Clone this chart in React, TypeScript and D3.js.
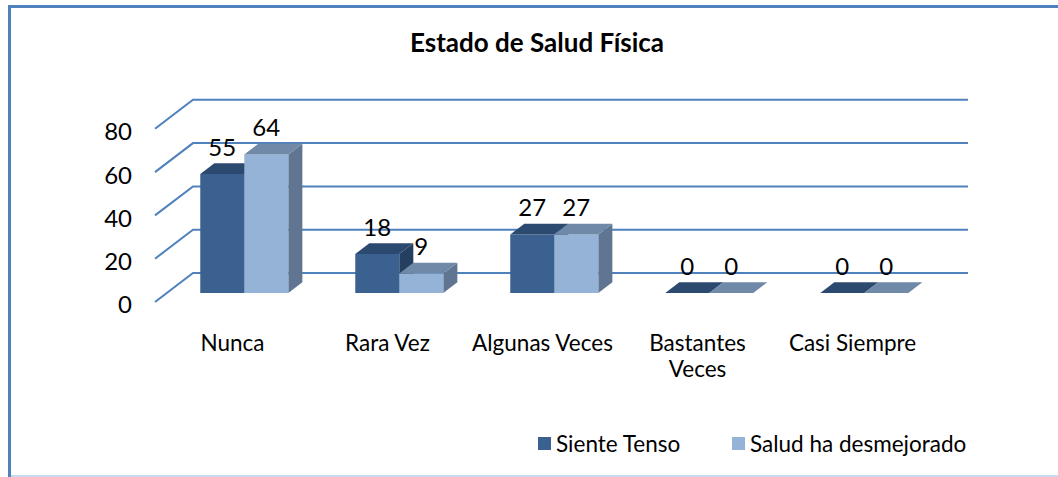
import React from "react";
import * as d3 from "d3";

const categories = ["Nunca", "Rara Vez", "Algunas Veces", "Bastantes Veces", "Casi Siempre"];
const series = ["Siente Tenso", "Salud ha desmejorado"];
const sienteTenso = [55, 18, 27, 0, 0];
const saludDesmejorado = [64, 9, 27, 0, 0];
const yTicks = [0, 20, 40, 60, 80];

const colors = [
  { front: "#3A6190", top: "#2C4A70", side: "#253F60" },
  { front: "#95B3D7", top: "#7089A8", side: "#5F7591" },
];

const width = 1058;
const height = 477;
const font = "Lato, 'Open Sans', sans-serif";

// floor: front-left corner and the depth vector of the 3D box
const floorX = 155;
const floorY = 302;
const depthX = 38;
const depthY = -29;
const floorW = 775;
const barD0 = 0.31;
const barD1 = 0.68;

const App = () => {
  const x0 = d3.scaleBand<string>().domain(categories).range([0, floorW]).paddingInner(0.432).paddingOuter(0.216);
  const x1 = d3.scaleBand<string>().domain(series).range([0, x0.bandwidth()]);
  const y = d3.scaleLinear().domain([0, 80]).range([0, 173.2]);
  const labelBand = d3.scaleBand<string>().domain(categories).range([0, floorW]);

  const values = [sienteTenso, saludDesmejorado];

  const pt = (u: number, d: number, v: number) =>
    [floorX + u + d * depthX, floorY + d * depthY - y(v)] as [number, number];
  const poly = (ps: [number, number][]) => ps.map((p) => p.join(",")).join(" ");

  return (
    <svg width={width} height={height} style={{ position: "absolute", left: 0, top: 0 }}>
      <rect x={0} y={0} width={width} height={height} fill="#fff" />
      <line x1={9.5} y1={6} x2={9.5} y2={477} stroke="#4F81BD" strokeWidth={3} />
      <line x1={8} y1={6.5} x2={1058} y2={6.5} stroke="#4F81BD" strokeWidth={3} />
      <line x1={11} y1={476} x2={1058} y2={476} stroke="#B9CDE5" strokeWidth={1.5} />

      <text x={537} y={52} textAnchor="middle" fontFamily={font} fontWeight="bold" fontSize={26} fill="#000">
        Estado de Salud Física
      </text>

      {/* side wall and back wall gridlines */}
      {yTicks.map((t) => {
        const a = pt(0, 0, t);
        const b = pt(0, 1, t);
        const c = pt(floorW, 1, t);
        return (
          <g key={t}>
            <polyline points={poly([a, b, c])} fill="none" stroke="#4F81BD" strokeWidth={2} />
            <text x={132} y={a[1] + 3} dy="0.35em" textAnchor="end" fontFamily={font} fontSize={24} fill="#000">
              {t}
            </text>
          </g>
        );
      })}

      {categories.map((cat, i) => (
        <g key={cat}>
          {series.map((s, j) => {
            const v = values[j][i];
            const u0 = (x0(cat) ?? 0) + (x1(s) ?? 0);
            const u1 = u0 + x1.bandwidth();
            const c = colors[j];
            const front = [pt(u0, barD0, 0), pt(u1, barD0, 0), pt(u1, barD0, v), pt(u0, barD0, v)];
            const top = [pt(u0, barD0, v), pt(u1, barD0, v), pt(u1, barD1, v), pt(u0, barD1, v)];
            const side = [pt(u1, barD0, 0), pt(u1, barD1, 0), pt(u1, barD1, v), pt(u1, barD0, v)];
            const lbl = pt((u0 + u1) / 2, barD1, v);
            return (
              <g key={s}>
                {v > 0 && <polygon points={poly(side)} fill={c.side} />}
                {v > 0 && <polygon points={poly(front)} fill={c.front} />}
                <polygon points={poly(top)} fill={c.top} />
                <text x={(pt(u0, barD0, 0)[0] + pt(u1, barD0, 0)[0]) / 2} y={lbl[1] - 16} dy="0.35em" textAnchor="middle" fontFamily={font} fontSize={24} fill="#000">
                  {v}
                </text>
              </g>
            );
          })}
        </g>
      ))}

      {categories.map((cat) => {
        const cx = floorX + (labelBand(cat) ?? 0) + labelBand.bandwidth() / 2;
        const words = cat === "Bastantes Veces" ? ["Bastantes", "Veces"] : [cat];
        return (
          <text key={cat} x={cx} y={351} textAnchor="middle" fontFamily={font} fontSize={22.5} fill="#000">
            {words.map((w, k) => (
              <tspan key={w} x={cx} dy={k === 0 ? 0 : 26}>
                {w}
              </tspan>
            ))}
          </text>
        );
      })}

      {series.map((s, j) => {
        const lx = j === 0 ? 538 : 732;
        return (
          <g key={s}>
            <rect x={lx} y={437} width={13} height={13} fill={colors[j].front} />
            <text x={lx + 18} y={452} fontFamily={font} fontSize={22.5} fill="#000">
              {s}
            </text>
          </g>
        );
      })}
    </svg>
  );
};

export default App;
